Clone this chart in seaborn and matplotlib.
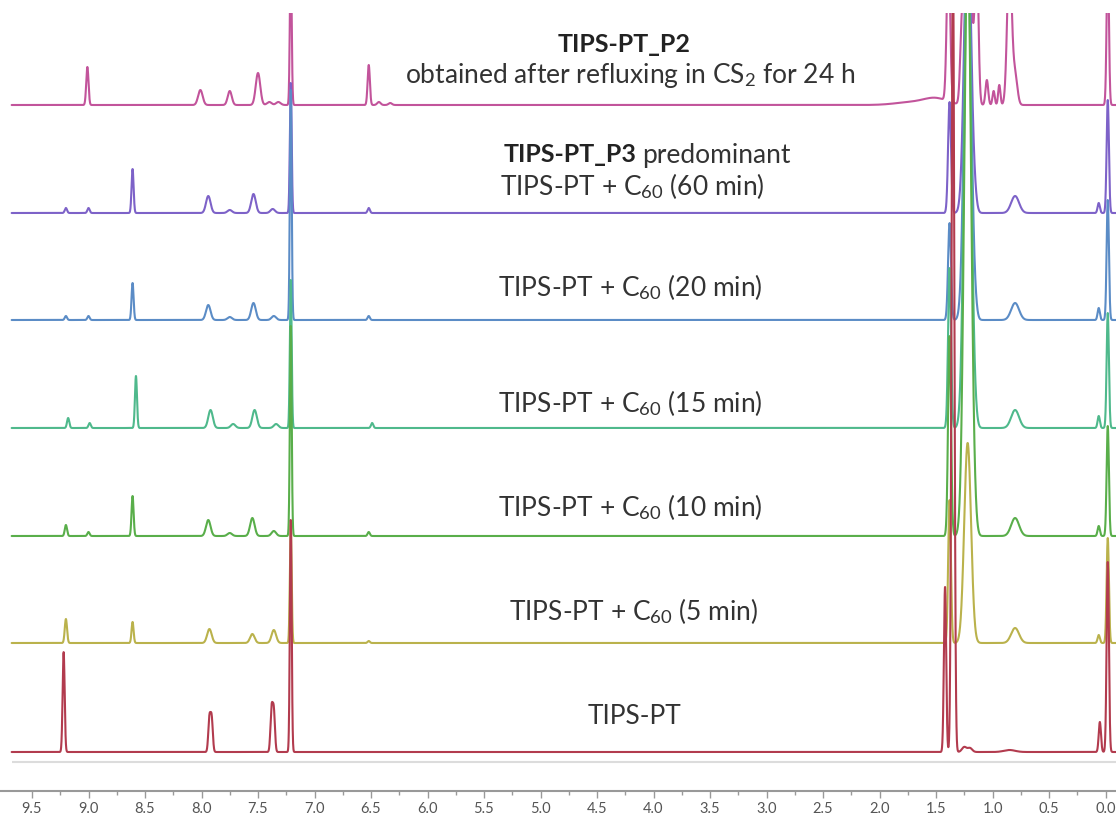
import numpy as np
import pandas as pd
import matplotlib
matplotlib.use("Agg")
import matplotlib.pyplot as plt
import seaborn as sns

# ---------------- data ----------------
spectra = ["TIPS-PT_P2", "60 min", "20 min", "15 min", "10 min", "5 min", "TIPS-PT"]
colors = ["#c2549b", "#7d62c8", "#5b8cc6", "#4fb98c", "#59ae4a", "#bab24c", "#b23b4e"]
baselines = [686, 578, 471, 363, 255, 148, 39]

# peaks: (shift ppm, height, width ppm)
p2_peaks = [(9.01, 38, 0.010), (8.01, 15, 0.020), (7.75, 14, 0.018), (7.50, 32, 0.020),
            (7.40, 3, 0.020), (7.32, 3, 0.020), (7.21, 150, 0.008), (6.52, 40, 0.010),
            (6.43, 3, 0.015), (6.33, 2, 0.015), (1.70, 3, 0.150), (1.50, 6, 0.100),
            (1.39, 150, 0.015), (1.27, 75, 0.015), (1.21, 150, 0.030), (1.14, 150, 0.015),
            (1.05, 25, 0.012), (0.99, 14, 0.010), (0.94, 20, 0.010), (0.85, 150, 0.020),
            (0.80, 30, 0.020), (-0.02, 150, 0.010)]
min60_peaks = [(9.20, 5, 0.010), (9.00, 5, 0.010), (8.61, 44, 0.009), (7.94, 17, 0.020),
               (7.75, 3, 0.020), (7.54, 19, 0.020), (7.37, 4, 0.020), (7.21, 130, 0.008),
               (6.52, 5, 0.010), (1.38, 111, 0.013), (1.22, 300, 0.030), (1.16, 12, 0.020),
               (0.80, 17, 0.035), (0.06, 10, 0.010), (-0.02, 113, 0.010)]
min20_peaks = [(9.20, 4, 0.010), (9.00, 4, 0.010), (8.61, 37, 0.009), (7.94, 15, 0.020),
               (7.75, 3, 0.020), (7.54, 17, 0.020), (7.36, 4, 0.020), (7.21, 230, 0.008),
               (6.52, 4, 0.010), (1.38, 97, 0.013), (1.22, 400, 0.030), (1.16, 12, 0.020),
               (0.80, 17, 0.035), (0.06, 12, 0.010), (-0.02, 120, 0.010)]
min15_peaks = [(9.18, 10, 0.010), (8.99, 5, 0.010), (8.58, 52, 0.009), (7.92, 18, 0.020),
               (7.72, 4, 0.020), (7.53, 18, 0.020), (7.34, 4, 0.020), (7.21, 148, 0.008),
               (6.49, 5, 0.010), (1.38, 160, 0.013), (1.22, 500, 0.030), (1.16, 12, 0.020),
               (0.80, 18, 0.035), (0.06, 12, 0.010), (-0.02, 115, 0.010)]
min10_peaks = [(9.20, 11, 0.010), (9.00, 4, 0.010), (8.61, 40, 0.009), (7.94, 16, 0.020),
               (7.75, 3, 0.020), (7.55, 18, 0.020), (7.36, 5, 0.020), (7.21, 210, 0.008),
               (6.52, 4, 0.010), (1.38, 200, 0.013), (1.22, 600, 0.030), (1.16, 12, 0.020),
               (0.80, 18, 0.035), (0.06, 10, 0.010), (-0.02, 110, 0.010)]
min5_peaks = [(9.20, 24, 0.010), (8.61, 21, 0.009), (7.93, 14, 0.020), (7.55, 9, 0.020),
              (7.36, 13, 0.020), (7.21, 118, 0.008), (6.52, 2, 0.010), (1.38, 143, 0.012),
              (1.22, 200, 0.030), (0.80, 15, 0.035), (0.06, 8, 0.010), (-0.02, 105, 0.010)]
tips_peaks = [(9.22, 100, 0.009), (7.93, 33, 0.010), (7.91, 33, 0.010), (7.38, 42, 0.010),
              (7.36, 40, 0.010), (7.21, 232, 0.008), (1.42, 165, 0.010), (1.35, 800, 0.012),
              (1.25, 5, 0.020), (1.20, 4, 0.020), (0.85, 2, 0.050), (0.05, 30, 0.010),
              (-0.02, 190, 0.010)]
peak_lists = [p2_peaks, min60_peaks, min20_peaks, min15_peaks, min10_peaks, min5_peaks, tips_peaks]

title_bold = "TIPS-PT_P2"
p3_bold = "TIPS-PT_P3"
p3_rest = "predominant"
labels = [
    (r"obtained after refluxing in CS$_2$ for 24 h", 630, 76),
    (r"TIPS-PT + C$_{60}$ (60 min)", 632, 186),
    (r"TIPS-PT + C$_{60}$ (20 min)", 630, 287),
    (r"TIPS-PT + C$_{60}$ (15 min)", 630, 403),
    (r"TIPS-PT + C$_{60}$ (10 min)", 630, 507),
    (r"TIPS-PT + C$_{60}$ (5 min)", 634, 611),
    ("TIPS-PT", 635, 716),
]
ticks = np.arange(0, 9.51, 0.5)

# ---------------- build spectra ----------------
ppm = np.linspace(9.68, -0.12, 9000)
rows = []
for name, base, peaks in zip(spectra, baselines, peak_lists):
    y = np.full_like(ppm, float(base))
    for c, h, w in peaks:
        y = y + h * np.exp(-0.5 * ((ppm - c) / w) ** 2)
    rows.append(pd.DataFrame({"ppm": ppm, "signal": y, "spectrum": name}))
df = pd.concat(rows, ignore_index=True)

# ---------------- plot ----------------
sns.set_theme(style="white")
plt.rcParams["font.family"] = ["Lato", "DejaVu Sans"]
plt.rcParams["mathtext.fontset"] = "custom"
plt.rcParams["mathtext.rm"] = "Lato"
plt.rcParams["mathtext.it"] = "Lato:italic"
plt.rcParams["mathtext.bf"] = "Lato:bold"

W, H = 1116, 815
fig = plt.figure(figsize=(W / 100, H / 100), dpi=100)
ax = fig.add_axes([0, (H - 791) / H, 1, (791 - 13) / H])

sns.lineplot(data=df, x="ppm", y="signal", hue="spectrum", hue_order=spectra,
             palette=dict(zip(spectra, colors)), estimator=None, sort=False,
             legend=False, linewidth=1.5, ax=ax)

ax.hlines(29, 9.68, -0.12, color="#dcdcdc", linewidth=1.5)

ax.set_xlim(9.5 + 32 / 113, 9.5 - 1084 / 113)
ax.set_ylim(0, 778)
ax.set_xlabel("")
ax.set_ylabel("")
ax.set_yticks([])
ax.set_xticks(ticks)
ax.set_xticklabels([f"{t:.1f}" for t in ticks])
ax.set_xticks(np.arange(0.25, 9.51, 0.5), minor=True)
for s in ["top", "left", "right"]:
    ax.spines[s].set_visible(False)
ax.spines["bottom"].set_color("#999999")
ax.spines["bottom"].set_linewidth(1.5)
ax.tick_params(axis="x", which="major", direction="out", length=5, width=1,
               color="#999999", labelsize=10.5, labelcolor="#555555", pad=3, bottom=True)
ax.tick_params(axis="x", which="minor", direction="out", length=3, width=1,
               color="#999999", bottom=True)

FS = 19
for txt, x, y in labels:
    fig.text(x / W, 1 - y / H, txt, ha="center", va="center", fontsize=FS, color="#333333")

fig.text(624 / W, 1 - 44 / H, title_bold, ha="center", va="center", fontsize=18,
         fontweight="bold", color="#222222")
fig.text(636 / W, 1 - 155 / H, p3_bold, ha="right", va="center", fontsize=18,
         fontweight="bold", color="#222222")
fig.text(642 / W, 1 - 155 / H, p3_rest, ha="left", va="center", fontsize=FS,
         color="#333333")

fig.savefig("out.png", dpi=100)
